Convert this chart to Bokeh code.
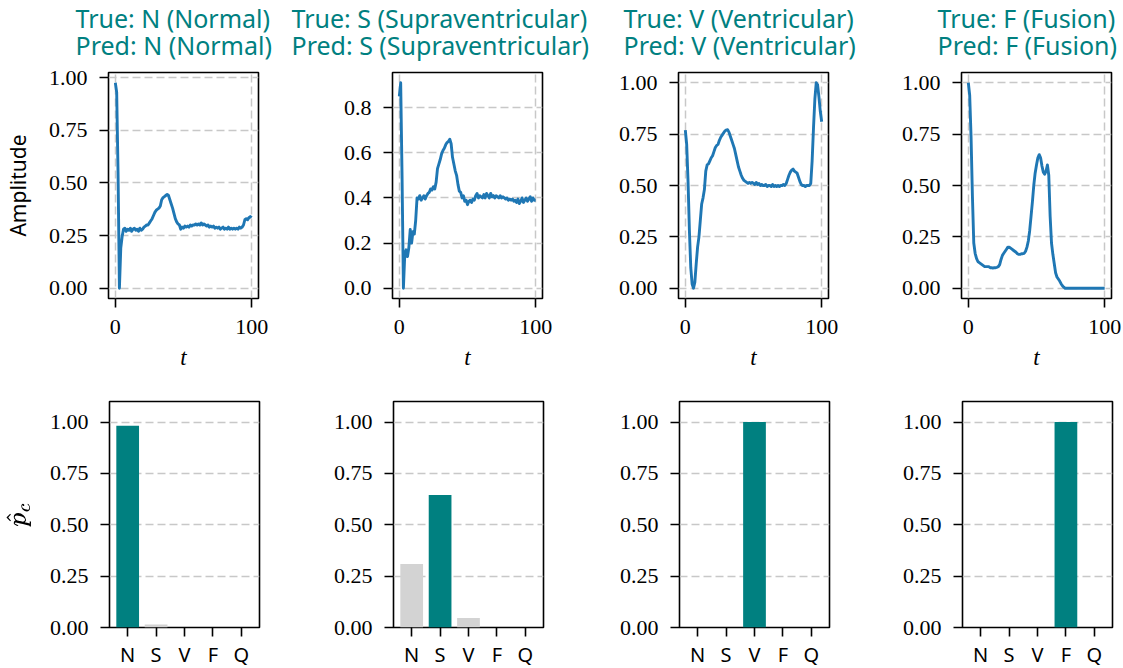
from bokeh.plotting import figure
from bokeh.layouts import row, column
from bokeh.models import FixedTicker, NumeralTickFormatter, Range1d, TeX
from bokeh.core.properties import value
from bokeh.embed import file_html
from bokeh.resources import INLINE

# ---------------- data ----------------
classes = ["N", "S", "V", "F", "Q"]
true_codes = ["N", "S", "V", "F"]
pred_codes = ["N", "S", "V", "F"]
class_names = {"N": "Normal", "S": "Supraventricular", "V": "Ventricular", "F": "Fusion"}

t = list(range(101))

amp_N = [0.975, 0.93, 0.55, 0.0, 0.19, 0.245, 0.28, 0.285, 0.27, 0.28,
         0.275, 0.285, 0.27, 0.28, 0.285, 0.275, 0.28, 0.27, 0.285, 0.275,
         0.28, 0.29, 0.295, 0.30, 0.30, 0.31, 0.32, 0.33, 0.345, 0.36,
         0.37, 0.375, 0.38, 0.39, 0.42, 0.43, 0.435, 0.44, 0.445, 0.44,
         0.42, 0.40, 0.38, 0.355, 0.33, 0.315, 0.305, 0.30, 0.28, 0.29,
         0.285, 0.295, 0.29, 0.295, 0.29, 0.30, 0.295, 0.30, 0.30, 0.305,
         0.30, 0.305, 0.30, 0.31, 0.30, 0.305, 0.30, 0.295, 0.30, 0.29,
         0.295, 0.29, 0.295, 0.285, 0.29, 0.285, 0.29, 0.28, 0.285, 0.29,
         0.28, 0.285, 0.28, 0.29, 0.28, 0.285, 0.28, 0.285, 0.28, 0.285,
         0.28, 0.29, 0.285, 0.29, 0.30, 0.325, 0.33, 0.325, 0.335, 0.34,
         0.335]

amp_S = [0.85, 0.91, 0.50, 0.0, 0.15, 0.17, 0.14, 0.18, 0.26, 0.20,
         0.25, 0.24, 0.30, 0.40, 0.395, 0.41, 0.39, 0.40, 0.41, 0.395,
         0.41, 0.42, 0.425, 0.44, 0.435, 0.45, 0.44, 0.47, 0.53, 0.55,
         0.57, 0.595, 0.61, 0.62, 0.635, 0.645, 0.65, 0.66, 0.64, 0.58,
         0.55, 0.52, 0.50, 0.46, 0.43, 0.425, 0.40, 0.41, 0.385, 0.39,
         0.37, 0.385, 0.39, 0.38, 0.395, 0.39, 0.41, 0.42, 0.40, 0.41,
         0.405, 0.40, 0.415, 0.40, 0.42, 0.41, 0.40, 0.42, 0.405, 0.41,
         0.40, 0.41, 0.405, 0.40, 0.41, 0.40, 0.405, 0.40, 0.395, 0.40,
         0.39, 0.395, 0.39, 0.395, 0.385, 0.39, 0.38, 0.395, 0.375, 0.385,
         0.40, 0.38, 0.39, 0.40, 0.385, 0.395, 0.405, 0.385, 0.40, 0.39,
         0.39]

amp_V = [0.77, 0.70, 0.52, 0.28, 0.10, 0.02, 0.0, 0.03, 0.12, 0.20,
         0.25, 0.33, 0.41, 0.44, 0.48, 0.57, 0.60, 0.605, 0.62, 0.635,
         0.645, 0.665, 0.685, 0.695, 0.70, 0.72, 0.735, 0.745, 0.755, 0.765,
         0.77, 0.772, 0.76, 0.74, 0.72, 0.70, 0.68, 0.65, 0.62, 0.59,
         0.57, 0.55, 0.535, 0.525, 0.52, 0.515, 0.51, 0.515, 0.51, 0.515,
         0.51, 0.505, 0.515, 0.505, 0.51, 0.50, 0.505, 0.50, 0.50, 0.505,
         0.495, 0.50, 0.50, 0.495, 0.505, 0.495, 0.50, 0.495, 0.50, 0.495,
         0.50, 0.50, 0.505, 0.50, 0.51, 0.53, 0.55, 0.565, 0.575, 0.58,
         0.57, 0.565, 0.56, 0.54, 0.52, 0.505, 0.50, 0.50, 0.495, 0.50,
         0.50, 0.50, 0.51, 0.62, 0.78, 0.92, 1.0, 0.99, 0.93, 0.86,
         0.81]

amp_F = [1.0, 0.94, 0.74, 0.45, 0.22, 0.17, 0.145, 0.13, 0.125, 0.12,
         0.115, 0.11, 0.105, 0.105, 0.105, 0.105, 0.10, 0.10, 0.098, 0.10,
         0.10, 0.102, 0.105, 0.115, 0.14, 0.16, 0.17, 0.18, 0.19, 0.20,
         0.20, 0.195, 0.19, 0.185, 0.18, 0.175, 0.168, 0.165, 0.165, 0.168,
         0.168, 0.17, 0.18, 0.20, 0.23, 0.28, 0.35, 0.42, 0.50, 0.56,
         0.60, 0.635, 0.65, 0.635, 0.595, 0.565, 0.555, 0.57, 0.60, 0.55,
         0.35, 0.22, 0.165, 0.12, 0.075, 0.055, 0.045, 0.035, 0.022, 0.012,
         0.005, 0.0, 0.0, 0.0, 0.0, 0.0, 0.0, 0.0, 0.0, 0.0,
         0.0, 0.0, 0.0, 0.0, 0.0, 0.0, 0.0, 0.0, 0.0, 0.0,
         0.0, 0.0, 0.0, 0.0, 0.0, 0.0, 0.0, 0.0, 0.0, 0.0,
         0.0]

probs_N = [0.982, 0.015, 0.0, 0.0, 0.0]
probs_S = [0.309, 0.645, 0.046, 0.0, 0.0]
probs_V = [0.0, 0.0, 1.0, 0.0, 0.0]
probs_F = [0.0, 0.0, 0.0, 1.0, 0.0]

amp_ticks_a = [0.0, 0.25, 0.5, 0.75, 1.0]
amp_ticks_b = [0.0, 0.2, 0.4, 0.6, 0.8]
prob_ticks = [0.0, 0.25, 0.5, 0.75, 1.0]
t_ticks = [0, 100]

signals = [amp_N, amp_S, amp_V, amp_F]
probs = [probs_N, probs_S, probs_V, probs_F]
yticks_top = [amp_ticks_a, amp_ticks_b, amp_ticks_a, amp_ticks_a]
yfmt_top = ["0.00", "0.0", "0.00", "0.00"]

# ---------------- style / layout ----------------
TEAL = "#008080"
GRAYBAR = "#d3d3d3"
LINE = "#1f77b4"
GRID = "#c8c8c8"
SERIF = "Liberation Serif"
SANS = "Noto Sans"

left_b = [106, 99, 76, 79]
right_b = [35, 60, 54, 12]
title_off = [-31, -99, -53, -22]   # title left edge relative to frame left (px)
FW, FH = 150, 226
HH = 62                            # header (title) height


def style_common(p):
    p.background_fill_color = "white"
    p.border_fill_color = "white"
    p.outline_line_color = "black"
    p.outline_line_width = 1.6
    p.axis.axis_line_color = None
    p.axis.major_tick_out = 9
    p.axis.major_tick_in = 0
    p.axis.major_tick_line_width = 1.6
    p.axis.major_tick_line_color = "black"
    p.axis.minor_tick_line_color = None
    p.axis.major_label_text_font = SERIF
    p.axis.major_label_text_font_size = "22px"
    p.axis.major_label_text_color = "black"
    p.axis.axis_label_text_color = "black"
    p.grid.grid_line_color = GRID
    p.grid.grid_line_dash = "8 4"
    p.grid.grid_line_width = 1.5


headers, top_figs, bot_figs = [], [], []
for i in range(4):
    tc, pc = true_codes[i], pred_codes[i]
    W = left_b[i] + FW + right_b[i]

    # ---- title header ----
    h = figure(width=W, height=HH, min_border_left=0, min_border_right=0,
               min_border_top=0, min_border_bottom=0,
               x_range=Range1d(-left_b[i], FW + right_b[i]), y_range=Range1d(0, HH),
               x_axis_location=None, y_axis_location=None,
               output_backend="svg", toolbar_location=None, tools="")
    h.title = None
    h.grid.visible = False
    h.outline_line_color = None
    h.background_fill_color = "white"
    h.border_fill_color = "white"
    h.text(x=[title_off[i], title_off[i]], y=[HH - 17, HH - 44],
           text=[f"True: {tc} ({class_names[tc]})", f"Pred: {pc} ({class_names[pc]})"],
           text_align="left", text_baseline="alphabetic",
           text_font=value(SANS), text_font_size=value("25px"), text_color=TEAL)
    headers.append(h)

    # ---- signal panel ----
    amp = signals[i]
    lo, hi = min(amp), max(amp)
    pad = (hi - lo) * 0.05
    p = figure(frame_width=FW, frame_height=FH,
               min_border_left=left_b[i], min_border_right=right_b[i],
               min_border_top=10, min_border_bottom=82,
               x_range=Range1d(-5, 105), y_range=Range1d(lo - pad, hi + pad),
               output_backend="svg", toolbar_location=None, tools="")
    p.title = None
    style_common(p)
    p.line(t, amp, line_color=LINE, line_width=2.9, line_join="round")
    p.xaxis.ticker = FixedTicker(ticks=t_ticks)
    p.yaxis.ticker = FixedTicker(ticks=yticks_top[i])
    p.yaxis.formatter = NumeralTickFormatter(format=yfmt_top[i])
    p.xaxis.formatter = NumeralTickFormatter(format="0")
    p.axis.major_label_standoff = 12
    p.xaxis.axis_label = "t"
    p.xaxis.axis_label_text_font = SERIF
    p.xaxis.axis_label_text_font_style = "italic"
    p.xaxis.axis_label_text_font_size = "23px"
    p.xaxis.axis_label_standoff = 8
    if i == 0:
        p.yaxis.axis_label = "Amplitude"
        p.yaxis.axis_label_text_font = SANS
        p.yaxis.axis_label_text_font_style = "normal"
        p.yaxis.axis_label_text_font_size = "21px"
        p.yaxis.axis_label_standoff = 14
    top_figs.append(p)

    # ---- probability panel ----
    q = figure(frame_width=FW, frame_height=FH,
               min_border_left=left_b[i], min_border_right=right_b[i],
               min_border_top=21, min_border_bottom=40,
               x_range=Range1d(-0.64, 4.64), y_range=Range1d(0, 1.1),
               output_backend="svg", toolbar_location=None, tools="")
    q.title = None
    style_common(q)
    idx = list(range(len(classes)))
    colors = [TEAL if c == pc else GRAYBAR for c in classes]
    q.vbar(x=idx, top=probs[i], width=0.8, fill_color=colors, line_color=None)
    q.xgrid.visible = False
    q.xaxis.ticker = FixedTicker(ticks=idx)
    q.xaxis.major_label_overrides = {k: c for k, c in enumerate(classes)}
    q.xaxis.major_label_text_font = SANS
    q.xaxis.major_label_text_font_size = "20px"
    q.xaxis.major_label_standoff = 4
    q.yaxis.ticker = FixedTicker(ticks=prob_ticks)
    q.yaxis.formatter = NumeralTickFormatter(format="0.00")
    q.yaxis.major_label_standoff = 12
    if i == 0:
        q.yaxis.axis_label = TeX(text=r"\hat{p}_c")
        q.yaxis.axis_label_text_font_size = "22px"
        q.yaxis.axis_label_standoff = 16
    bot_figs.append(q)

layout = column(row(*headers), row(*top_figs), row(*bot_figs))
open("out.html", "w").write(file_html(layout, INLINE))
